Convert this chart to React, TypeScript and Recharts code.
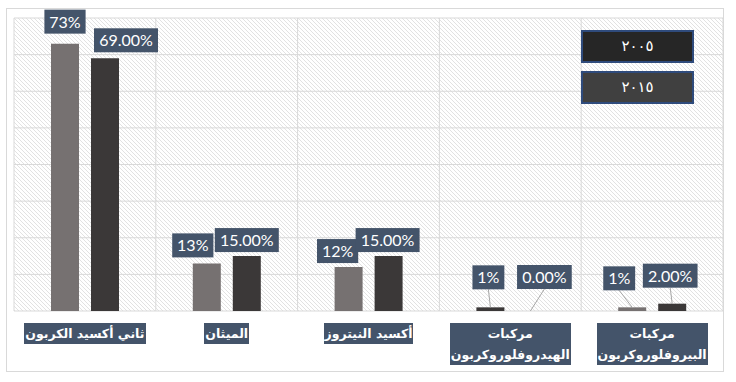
import React from 'react';
import { BarChart, Bar, XAxis, YAxis, CartesianGrid, Legend, Rectangle, Cell } from 'recharts';

const categories = ['ثاني أكسيد الكربون', 'الميثان', 'أكسيد النيتروز', 'مركبات\nالهيدروفلوروكربون', 'مركبات\nالبيروفلوروكربون'];
const seriesNames = ['٢٠٠٥', '٢٠١٥'];
const values2005 = [73, 13, 12, 1, 1];
const values2015 = [69, 15, 15, 0, 2];
const yTicks = [0, 10, 20, 30, 40, 50, 60, 70, 80];

// label nudges as in the original sheet: [dx, gap above bar]
const nudge2005 = [[0, 10], [-14, 6], [-11, 4], [-2, 18], [-13, 17]];
const nudge2015 = [[21, 6], [0, 4], [-1, 4], [14, 22], [-2, 16]];

const data = categories.map((name, i) => ({ name, v2005: values2005[i], v2015: values2015[i] }));

const barFills = ['#767171', '#3b3838'];
const legendFills = ['#262626', '#404040'];

const textWidth = (s: string) => {
  let w = 0;
  for (const c of s) w += c === '.' ? 4.2 : c === '%' ? 12.6 : 9.3;
  return w;
};

const renderLabel = (x: number, y: number, width: number, text: string, nudge: number[]) => {
  const [dx, gap] = nudge;
  const w = textWidth(text) + 10;
  const h = 24;
  const barCx = x + width / 2;
  const cx = barCx + dx;
  const bottom = y - gap;
  return (
    <g>
      {gap > 10 && <line x1={cx} y1={bottom} x2={barCx} y2={y} stroke="#a6a6a6" strokeWidth={1} />}
      <rect x={cx - w / 2} y={bottom - h} width={w} height={h} fill="#44546a" />
      <text x={cx} y={bottom - h / 2 + 6} textAnchor="middle" fill="#fff" fontFamily="Lato" fontSize={16}>{text}</text>
    </g>
  );
};

const makeShape = (key: 'v2005' | 'v2015', nudges: number[][], fmt: (v: number) => string) => (props: any) => {
  const { x, y, width, height, index, payload } = props;
  return (
    <g>
      {height > 0 && <Rectangle x={x} y={y} width={width} height={height} fill={props.fill} />}
      {renderLabel(x, y, width, fmt(payload[key]), nudges[index])}
    </g>
  );
};

const CategoryTick = (props: any) => {
  const { x, y, payload } = props;
  return (
    <foreignObject x={x - 75} y={y + 4} width={150} height={50}>
      <div style={{ textAlign: 'center' }}>
        <span style={{
          display: 'inline-block', background: '#44546a', color: '#fff', fontWeight: 'bold',
          fontFamily: '"DejaVu Sans"', fontSize: 12.5, lineHeight: '21px', whiteSpace: 'pre',
          direction: 'rtl', padding: '0 1px'
        }}>{payload.value}</span>
      </div>
    </foreignObject>
  );
};

const LegendBoxes = () => (
  <div>
    {seriesNames.map((n, i) => <div key={n} style={{
      width: 109, height: 29, background: legendFills[i], border: '2px solid #2f4b7c',
      color: '#fff', fontFamily: '"DejaVu Sans"', fontSize: 15, lineHeight: '29px',
      textAlign: 'center', letterSpacing: 4, marginBottom: 8
    }}>{n}</div>)}
  </div>
);

export default function App() {
  return (
    <div style={{ position: 'absolute', left: 0, top: 0, width: 736, height: 382, background: '#fff' }}>
      <div style={{ position: 'absolute', left: 6, top: 8, width: 716, height: 362, border: '1px solid #d9d9d9' }} />
      <div style={{ position: 'absolute', left: 0, top: 0 }}>
        <BarChart width={736} height={382} data={data} margin={{ top: 18, right: 13, left: 14, bottom: 0 }} barGap={12} barSize={28}>
          <defs>
            <pattern id="hatch" patternUnits="userSpaceOnUse" width={4} height={4}>
              <path d="M0,0 L4,4 M-1,3 L1,5 M3,-1 L5,1" stroke="#e2e2e2" strokeWidth={1} />
            </pattern>
          </defs>
          <CartesianGrid
            fill="url(#hatch)"
            stroke="#d9d9d9"
            verticalCoordinatesGenerator={({ offset }: any) => [0, 1, 2, 3, 4, 5].map(i => offset.left + (i * offset.width) / 5)}
          />
          <XAxis dataKey="name" interval={0} height={71} axisLine={false} tickLine={false} tick={CategoryTick} />
          <YAxis hide domain={[0, 80]} ticks={yTicks} />
          <Legend layout="vertical" align="center" verticalAlign="middle" content={LegendBoxes}
            wrapperStyle={{ top: 30, left: 581, width: 113 }} />
          <Bar dataKey="v2005" name={seriesNames[0]} fill={barFills[0]} isAnimationActive={false}
            shape={makeShape('v2005', nudge2005, v => `${v}%`)}>
            {data.map((d, i) => <Cell key={i} fill={i === 3 ? barFills[1] : barFills[0]} />)}
          </Bar>
          <Bar dataKey="v2015" name={seriesNames[1]} fill={barFills[1]} isAnimationActive={false}
            shape={makeShape('v2015', nudge2015, v => `${v.toFixed(2)}%`)} />
        </BarChart>
      </div>
    </div>
  );
}
